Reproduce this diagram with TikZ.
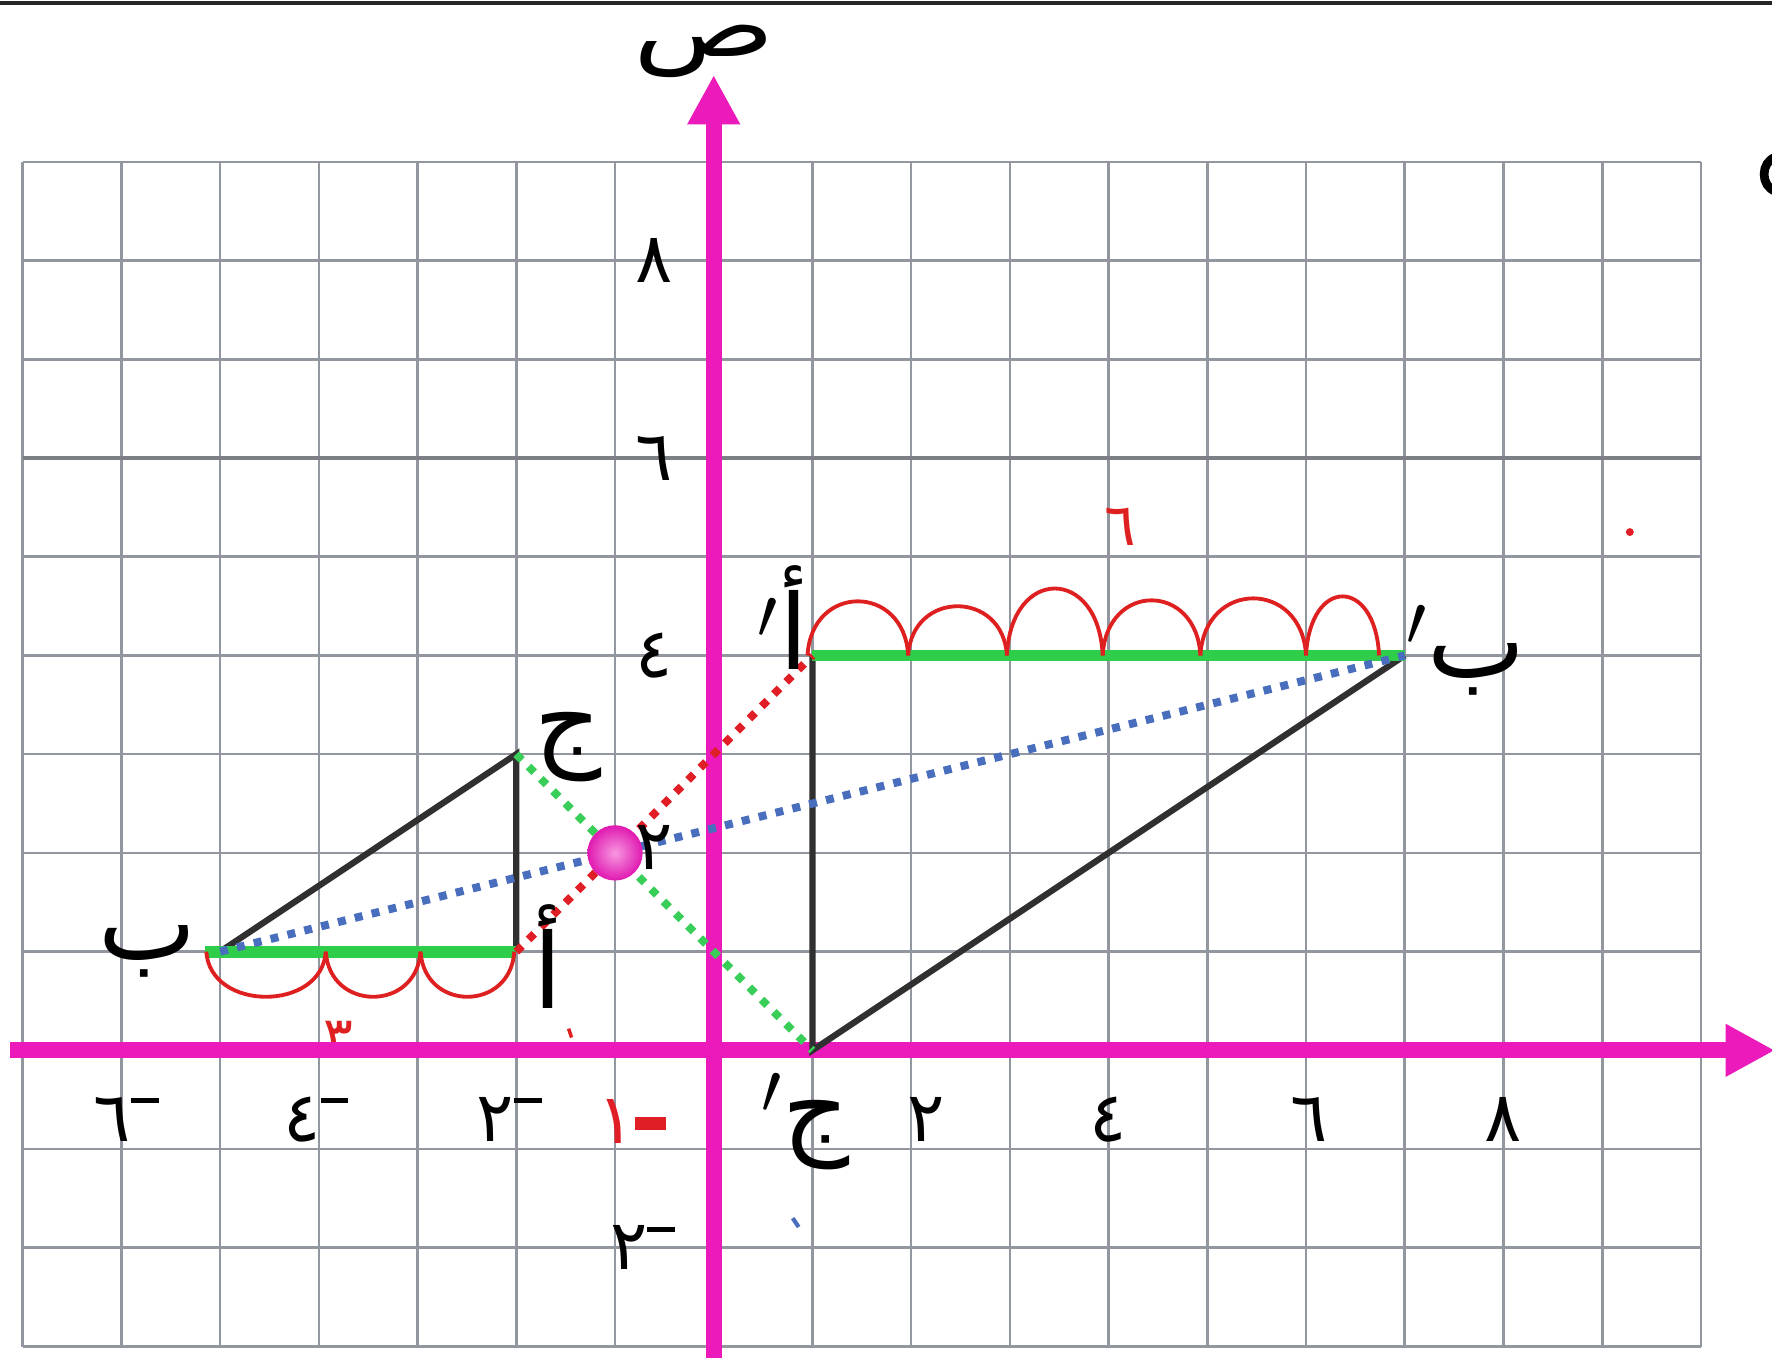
\documentclass[tikz,border=0pt]{standalone}
\usepackage{fontspec}
\newfontfamily\arabicfont[Script=Arabic]{DejaVu Sans}
\TeXXeTstate=1
\usetikzlibrary{arrows.meta}
\definecolor{axismag}{RGB}{236,26,186}
\definecolor{gridgray}{RGB}{146,150,158}
\definecolor{sidegreen}{RGB}{46,206,74}
\definecolor{rayred}{RGB}{224,30,38}
\definecolor{rayblue}{RGB}{74,110,190}
\definecolor{raygreen}{RGB}{56,206,88}
\definecolor{humpred}{RGB}{222,32,32}
\definecolor{sidegray}{RGB}{48,48,48}
\newcommand{\artxt}[1]{{\arabicfont\beginR #1\endR}}
\newcommand{\negsign}{\raisebox{0.55em}{\rule{0.4em}{1.4pt}}}

\begin{document}
\begin{tikzpicture}[x=1cm, y=1cm,
    side/.style={sidegray, line width=1.8pt},
    imgside/.style={sidegreen, line width=3.4pt},
    ray/.style={line width=2.3pt, dash pattern=on 2.3pt off 2.7pt},
    hump/.style={humpred, line width=1.1pt},
    axis/.style={axismag, line width=4.6pt, -{Triangle[length=5mm, width=5mm]}},
    num/.style={inner sep=0pt, font=\fontsize{20}{22}\selectfont\arabicfont},
    vlab/.style={inner sep=0pt, font=\fontsize{30}{34}\selectfont\arabicfont}]
  \useasboundingbox (-7.23,-3.14) rectangle (10.72,10.64);
  \draw[black!85, line width=1pt] (-7.23,10.61) -- (10.72,10.61);
  \draw[gridgray, line width=0.75pt] (-7,-3) grid (10,9);
  \draw[gridgray!85!black, line width=1.3pt] (-7,6) -- (10,6);
  % length of AB, half hidden by the axis
  \begin{scope}
    \clip (-4.3,0) rectangle (-3.3,0.7);
    \node[num, text=humpred, font=\fontsize{16}{18}\selectfont\arabicfont] (lenAB) at (-3.8,0.12) {٣};
  \end{scope}
  \draw[humpred, line width=1pt] (-1.47,0.22) -- (-1.44,0.13);
  % axes
  \draw[axis] (-7.13,0) -- (10.75,0);
  \draw[axis] (0,-3.12) -- (0,9.88);
  \node[vlab, font=\fontsize{25}{28}\selectfont\arabicfont] (ylab) at (-0.1,10.12) {\scalebox{1.35}[1]{\artxt{ص}}};
  \foreach \i/\x/\xlab in {2/2.15/٢,4/4/٤,6/6.03/٦,8/8/٨}
    \node[num] (xp\i) at (\x,-0.7) {\xlab};
  \foreach \i/\x/\xlab in {6/-5.95/٦,4/-4.03/٤,2/-2.07/٢}
    \node[num] (xn\i) at (\x,-0.7) {\xlab\negsign};
  \node[num, text=rayred] (xn1) at (-0.83,-0.72) {١\raisebox{0.2em}{\rule{0.45em}{3.5pt}}};
  \foreach \i/\y/\ylab in {8/8/٨,6/6/٦,4/4/٤}
    \node[num] (yp\i) at (-0.6,\y) {\ylab};
  \node[num] (yn2) at (-0.72,-2) {٢\negsign};
  % triangle and its image, centre (-1,2), factor -2
  \coordinate (A) at (-2,1);
  \coordinate (B) at (-5,1);
  \coordinate (C) at (-2,3);
  \coordinate (Ai) at (1,4);
  \coordinate (Bi) at (7,4);
  \coordinate (Ci) at (1,0);
  \coordinate (P) at (-1,2);
  \draw[side] (B) -- (C) -- (A);
  \draw[side] (Ai) -- (Ci) -- (Bi);
  \draw[imgside] ([xshift=-0.15cm]B) -- (A);
  \draw[imgside] (Ai) -- (Bi);
  \draw[ray, rayred] (A) -- (Ai);
  \draw[ray, rayblue] (B) -- (Bi);
  \draw[ray, raygreen] (C) -- (Ci);
  \foreach \a/\b/\h in {0.95/1.97/0.55,1.97/2.97/0.5,2.97/3.94/0.68,3.94/4.93/0.56,4.93/6.0/0.58,6.0/6.74/0.6}
    \draw[hump] (\a,4) .. controls (\a+0.04,4+\h*1.33) and (\b-0.04,4+\h*1.33) .. (\b,4);
  \foreach \a/\b in {-5.14/-3.93,-3.93/-2.97,-2.97/-2.02}
    \draw[hump] (\a,1) .. controls (\a+0.04,0.39) and (\b-0.04,0.39) .. (\b,1);
  \node[num, text=humpred, font=\fontsize{17}{19}\selectfont\arabicfont] (lenAiBi) at (4.12,5.3) {٦};
  \node[num] (yp2) at (-0.6,2.05) {٢};
  \shade[inner color=axismag!45!white, outer color=axismag!95!black] (P) circle (0.28);
  % vertex names
  \node[vlab] (labB) at (-5.74,1.0) {\artxt{ب}};
  \node[vlab] (labA) at (-1.68,0.95) {\artxt{أ}};
  \node[vlab] (labC) at (-1.48,3.07) {\artxt{ج}};
  \node[vlab] (labAi) at (0.7,4.38) {$^{\prime}$\artxt{أ}};
  \node[vlab] (labBi) at (7.62,4.05) {$^{\prime}$\artxt{ب}};
  \node[vlab] (labCi) at (0.93,-0.72) {$^{\prime}$\artxt{ج}};
  % stray marks
  \fill[rayred] (9.28,5.25) circle (0.04);
  \draw[rayblue, line width=1.2pt] (0.8,-1.7) -- (0.86,-1.79);
  \draw[black, line width=2.5pt] (10.76,9.05) .. controls (10.6,9.0) and (10.6,8.75) .. (10.76,8.7);
\end{tikzpicture}
\end{document}
